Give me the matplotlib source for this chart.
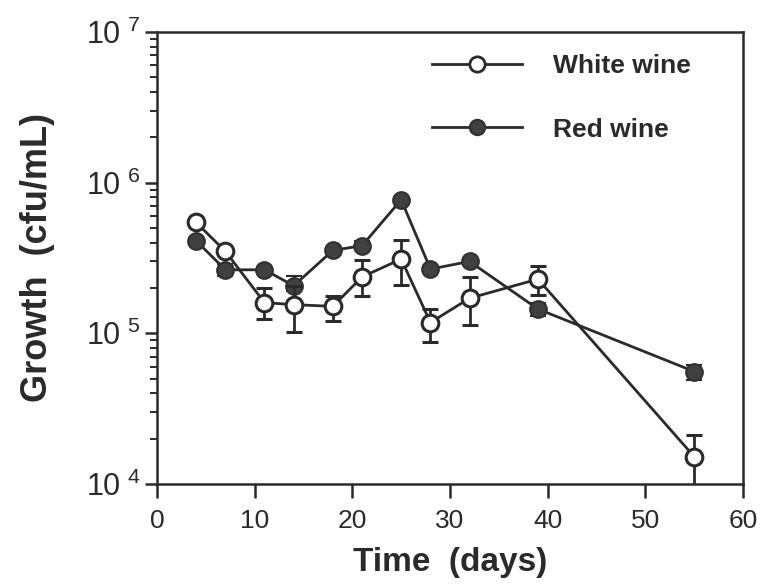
import matplotlib
matplotlib.use("Agg")
import matplotlib.pyplot as plt
import numpy as np
from matplotlib.lines import Line2D
from matplotlib.ticker import FixedLocator, FixedFormatter, LogLocator, NullFormatter

plt.rcParams['font.family'] = ['Liberation Sans', 'DejaVu Sans']
plt.rcParams['mathtext.fontset'] = 'custom'
plt.rcParams['mathtext.rm'] = 'Liberation Sans'

days = [4, 7, 11, 14, 18, 21, 25, 28, 32, 39, 55]
white = [5.45e5, 3.5e5, 1.6e5, 1.55e5, 1.51e5, 2.37e5, 3.11e5, 1.18e5, 1.71e5, 2.29e5, 1.52e4]
white_hi = [5.6e5, 3.65e5, 2.0e5, 2.05e5, 1.76e5, 3.05e5, 4.14e5, 1.44e5, 2.35e5, 2.78e5, 2.1e4]
white_lo = [5.3e5, 3.35e5, 1.25e5, 1.02e5, 1.21e5, 1.76e5, 2.08e5, 0.88e5, 1.13e5, 1.80e5, 0.9e4]

red = [4.12e5, 2.64e5, 2.64e5, 2.07e5, 3.55e5, 3.82e5, 7.7e5, 2.67e5, 3.0e5, 1.45e5, 5.58e4]
red_hi = [4.3e5, 2.9e5, 2.75e5, 2.4e5, 3.7e5, 4.1e5, 8.0e5, 2.8e5, 3.15e5, 1.6e5, 6.2e4]
red_lo = [3.95e5, 2.4e5, 2.55e5, 1.9e5, 3.4e5, 3.6e5, 7.4e5, 2.55e5, 2.85e5, 1.3e5, 4.9e4]

series_names = ['White wine', 'Red wine']
xticks = [0, 10, 20, 30, 40, 50, 60]
yticks = [1e4, 1e5, 1e6, 1e7]
ytick_labels = [r'$\mathregular{10^{\ 4}}$', r'$\mathregular{10^{\ 5}}$',
                r'$\mathregular{10^{\ 6}}$', r'$\mathregular{10^{\ 7}}$']

ink = '#2a2a2a'
red_fill = '#404040'
fig = plt.figure(figsize=(7.63, 5.84), dpi=100)
ax = fig.add_axes([157/763, 1-484/584, (743-157)/763, (484-32)/584])
ax.set_yscale('log')
ax.set_xlim(0, 60)
ax.set_ylim(1e4, 1e7)

w = np.array(white); r = np.array(red)
ax.errorbar(days, white, yerr=[w-np.array(white_lo), np.array(white_hi)-w],
            fmt='-o', color=ink, mfc='white', mec=ink, ms=12, mew=2.2, lw=2.0,
            ecolor=ink, elinewidth=2.0, capsize=6, capthick=2.0, zorder=3)
ax.errorbar(days, red, yerr=[r-np.array(red_lo), np.array(red_hi)-r],
            fmt='-o', color=ink, mfc=red_fill, mec='#303030', ms=12, mew=1.5, lw=2.0,
            ecolor=ink, elinewidth=2.0, capsize=6, capthick=2.0, zorder=2)

for s in ax.spines.values():
    s.set_linewidth(1.8)
    s.set_color(ink)

ax.xaxis.set_major_locator(FixedLocator(xticks))
ax.set_xticklabels([str(t) for t in xticks])
ax.yaxis.set_major_locator(FixedLocator(yticks))
ax.yaxis.set_major_formatter(FixedFormatter(ytick_labels))
ax.yaxis.set_minor_locator(LogLocator(base=10, subs=np.arange(2, 10)))
ax.yaxis.set_minor_formatter(NullFormatter())
ax.tick_params(axis='x', direction='out', length=10, width=1.8, labelsize=19, pad=8, colors=ink)
ax.tick_params(axis='y', which='major', direction='out', length=9, width=1.8, labelsize=22, pad=3, colors=ink)
ax.tick_params(axis='y', which='minor', direction='out', length=5, width=1.4, colors=ink)

ax.set_xlabel('Time  (days)', fontsize=24, fontweight='bold', color=ink, labelpad=10)
ax.set_ylabel('Growth  (cfu/mL)', fontsize=26, fontweight='bold', color=ink, labelpad=22)

handles = [Line2D([], [], color=ink, lw=2.0, marker='o', ms=11, mfc='white', mec=ink, mew=2.0),
           Line2D([], [], color=ink, lw=2.0, marker='o', ms=11, mfc=red_fill, mec='#303030', mew=1.5)]
leg = fig.legend(handles, series_names, loc='upper left', bbox_to_anchor=(432/763, 1-54/584),
                 bbox_transform=fig.transFigure, frameon=False,
                 handlelength=3.4, handletextpad=1.2, labelspacing=1.5,
                 borderpad=0, borderaxespad=0, prop={'weight': 'bold', 'size': 19})
for t in leg.get_texts():
    t.set_color(ink)

fig.savefig('out.png', dpi=100)
